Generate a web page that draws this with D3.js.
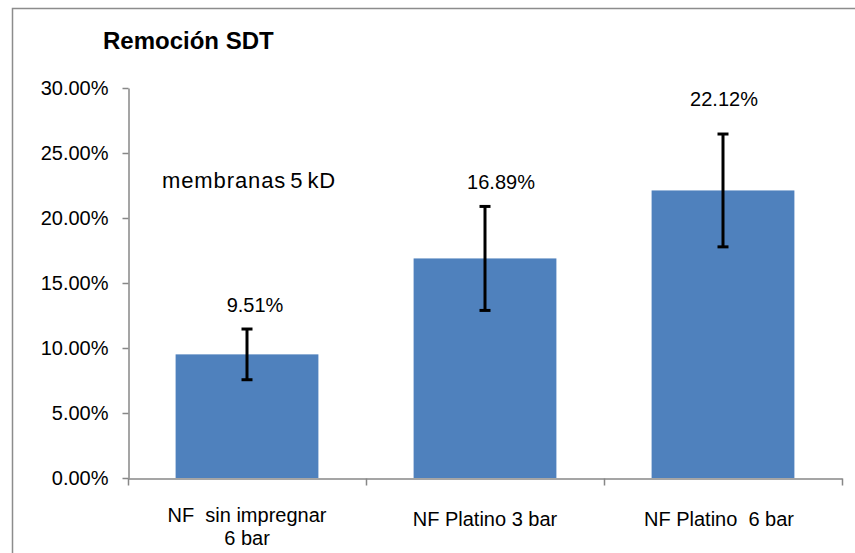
<!DOCTYPE html>
<html>
<head>
<meta charset="utf-8">
<script src="https://cdn.jsdelivr.net/npm/d3@7/dist/d3.min.js"></script>
<style>
  html, body { margin: 0; padding: 0; background: #fff; }
  svg { display: block; }
  text { font-family: "Liberation Sans", Arial, sans-serif; fill: #000; }
</style>
</head>
<body>
<svg id="chart" width="855" height="553"></svg>
<script>
// ---- data ----
const categories = ["NF  sin impregnar 6 bar", "NF Platino 3 bar", "NF Platino  6 bar"];
const categoryLines = [["NF  sin impregnar", "6 bar"], ["NF Platino 3 bar"], ["NF Platino  6 bar"]];
const values = [9.51, 16.89, 22.12];          // % removal
const errors = [1.95, 4.00, 4.34];            // +/- error, %
const valueLabels = ["9.51%", "16.89%", "22.12%"];
const yTicks = [0, 5, 10, 15, 20, 25, 30];
const title = "Remoción SDT";
const note = "membranas 5 kD";

// ---- layout ----
const svg = d3.select("#chart");
const axisColor = "#878787";
const barColor = "#4F81BD";

// chart frame (only top/left edges visible in the picture)
svg.append("path")
  .attr("d", "M12.5,560 L12.5,8.5 L870,8.5")
  .attr("fill", "none").attr("stroke", "#8c8c8c").attr("stroke-width", 1.5);

const x = d3.scaleBand().domain(categories).range([128, 842])
  .paddingInner(0.4).paddingOuter(0.2);
const y = d3.scaleLinear().domain([0, 30]).range([478, 88]);

// bars
svg.append("g").selectAll("rect").data(values).join("rect")
  .attr("x", (d, i) => x(categories[i]))
  .attr("y", d => y(d))
  .attr("width", x.bandwidth())
  .attr("height", d => y(0) - y(d))
  .attr("fill", barColor);

// y axis
const yAxis = svg.append("g").attr("transform", "translate(128.5,0)")
  .call(d3.axisLeft(y).tickValues(yTicks).tickSize(6).tickSizeOuter(0).tickPadding(14)
    .tickFormat(d => d.toFixed(2) + "%"));
yAxis.select(".domain").attr("stroke", axisColor).attr("stroke-width", 1.5);
yAxis.selectAll(".tick line").attr("stroke", axisColor).attr("stroke-width", 1.5);
yAxis.selectAll(".tick text").style("font-size", "20px").style("font-family", "Liberation Sans, Arial, sans-serif").attr("fill", "#000");

// x axis (ticks at category boundaries)
const xb = d3.scaleLinear().domain([0, categories.length]).range([128, 842]);
const xAxis = svg.append("g").attr("transform", "translate(0,478.5)")
  .call(d3.axisBottom(xb).tickValues(d3.range(0, categories.length + 1)).tickSize(7).tickSizeOuter(0).tickFormat(""));
xAxis.select(".domain").attr("stroke", axisColor).attr("stroke-width", 1.5);
xAxis.selectAll(".tick line").attr("stroke", axisColor).attr("stroke-width", 1.5);

// category labels
const catG = svg.append("g");
categoryLines.forEach((lines, i) => {
  const cx = x(categories[i]) + x.bandwidth() / 2;
  const t = catG.append("text")
    .attr("text-anchor", "middle")
    .style("font-size", "20px")
    .style("white-space", "pre")
    .attr("xml:space", "preserve");
  lines.forEach((ln, j) => {
    t.append("tspan").attr("x", cx + (i === 2 ? -4 : 0)).attr("y", (lines.length > 1 ? 522 : 526) + j * 23).text(ln);
  });
});

// error bars
const eg = svg.append("g").attr("stroke", "#000").attr("stroke-width", 3);
values.forEach((v, i) => {
  const cx = x(categories[i]) + x.bandwidth() / 2;
  eg.append("line").attr("x1", cx).attr("x2", cx).attr("y1", y(v + errors[i])).attr("y2", y(v - errors[i]));
  eg.append("line").attr("x1", cx - 5.5).attr("x2", cx + 5.5).attr("y1", y(v + errors[i])).attr("y2", y(v + errors[i]));
  eg.append("line").attr("x1", cx - 5.5).attr("x2", cx + 5.5).attr("y1", y(v - errors[i])).attr("y2", y(v - errors[i]));
});

// value labels (placed above the error bars as in the original)
const labelDx = [8, 16, 1];
const labelGap = [17, 17, 28];
svg.append("g").selectAll("text").data(values).join("text")
  .attr("x", (d, i) => x(categories[i]) + x.bandwidth() / 2 + labelDx[i])
  .attr("y", (d, i) => y(d + errors[i]) - labelGap[i])
  .attr("text-anchor", "middle")
  .style("font-size", "20px")
  .text((d, i) => valueLabels[i]);

// title
svg.append("text").attr("x", 103).attr("y", 49)
  .style("font-size", "24px").style("font-weight", "bold")
  .text(title);

// note
svg.append("text").attr("x", 162).attr("y", 188)
  .style("font-size", "22px").style("letter-spacing", "0.9px").style("word-spacing", "-3px")
  .text(note);
</script>
</body>
</html>
